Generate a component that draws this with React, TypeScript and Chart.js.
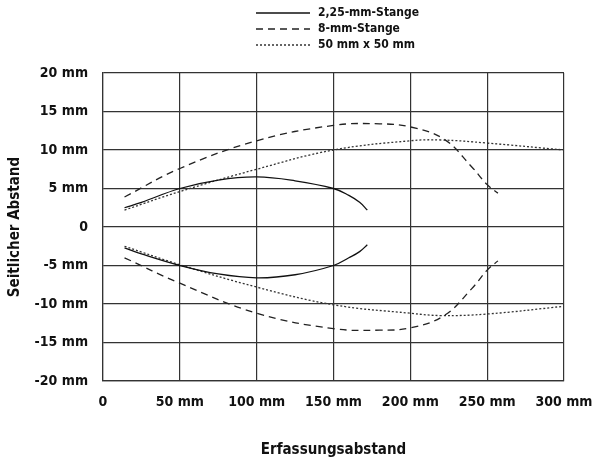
import React, { useEffect, useRef } from "react";
import { Chart, registerables } from "chart.js";

Chart.register(...registerables);

const xTicks = [0, 50, 100, 150, 200, 250, 300];
const yTicks = [-20, -15, -10, -5, 0, 5, 10, 15, 20];

const seriesNames = ["2,25-mm-Stange", "8-mm-Stange", "50 mm x 50 mm"];

const rod225X = [14, 25, 50, 75, 100, 125, 150, 160, 167, 172];
const rod225Upper = [2.5, 3.2, 5.0, 6.1, 6.5, 6.0, 5.0, 4.1, 3.2, 2.2];
const rod225Lower = [-2.7, -3.5, -5.0, -6.1, -6.6, -6.2, -5.0, -4.0, -3.2, -2.3];

const rod8X = [14, 50, 100, 150, 180, 200, 222, 240, 250, 257];
const rod8Upper = [3.9, 7.6, 11.2, 13.2, 13.4, 13.0, 11.4, 7.8, 5.5, 4.4];
const rod8Lower = [-4.0, -7.3, -11.2, -13.2, -13.4, -13.1, -11.5, -8.0, -5.6, -4.4];

const plateX = [14, 50, 100, 150, 200, 220, 250, 300];
const plateUpper = [2.2, 4.6, 7.5, 10.0, 11.2, 11.3, 10.9, 10.0];
const plateLower = [-2.5, -4.9, -7.8, -10.1, -11.2, -11.5, -11.3, -10.3];

const FONT = '"DejaVu Sans Condensed", "Liberation Sans Narrow", sans-serif';

const styles = [
  { color: "#111111", dash: [] as number[], width: 1.3 },
  { color: "#222222", dash: [7, 5], width: 1.3 },
  { color: "#333333", dash: [2, 2], width: 1.3 },
];

const pts = (xs: number[], ys: number[]) => xs.map((x, i) => ({ x, y: ys[i] }));

const legendPlugin = {
  id: "customLegend",
  afterDraw(chart: any) {
    const ctx = chart.ctx;
    ctx.save();
    const rows = [13, 29, 45];
    seriesNames.forEach((name, i) => {
      const s = styles[i];
      ctx.beginPath();
      ctx.setLineDash(s.dash);
      ctx.strokeStyle = s.color;
      ctx.lineWidth = s.width;
      ctx.moveTo(256, rows[i]);
      ctx.lineTo(310, rows[i]);
      ctx.stroke();
      ctx.setLineDash([]);
      ctx.fillStyle = "#111";
      ctx.font = `bold 12px ${FONT}`;
      ctx.textAlign = "left";
      ctx.textBaseline = "middle";
      ctx.fillText(name, 318, rows[i]);
    });
    ctx.restore();
  },
};

export default function App() {
  const ref = useRef<HTMLCanvasElement | null>(null);
  useEffect(() => {
    if (!ref.current) return;
    const mk = (label: string, xs: number[], ys: number[], si: number) => ({
      label,
      data: pts(xs, ys),
      borderColor: styles[si].color,
      borderDash: styles[si].dash,
      borderWidth: styles[si].width,
      pointRadius: 0,
      fill: false,
      showLine: true,
      tension: 0.4,
    });
    const chart = new Chart(ref.current, {
      type: "scatter",
      data: {
        datasets: [
          mk(seriesNames[0], rod225X, rod225Upper, 0),
          mk(seriesNames[0], rod225X, rod225Lower, 0),
          mk(seriesNames[1], rod8X, rod8Upper, 1),
          mk(seriesNames[1], rod8X, rod8Lower, 1),
          mk(seriesNames[2], plateX, plateUpper, 2),
          mk(seriesNames[2], plateX, plateLower, 2),
        ],
      },
      options: {
        animation: false,
        responsive: false,
        layout: { padding: { top: 73, right: 35, left: 0, bottom: 0 } },
        plugins: { legend: { display: false }, tooltip: { enabled: false } },
        scales: {
          x: {
            type: "linear",
            min: 0,
            max: 300,
            afterBuildTicks: (scale: any) => {
              scale.ticks = xTicks.map((v) => ({ value: v }));
            },
            afterFit: (scale: any) => {
              scale.height = 85;
              scale.paddingLeft = 0;
              scale.paddingRight = 0;
            },
            grid: { color: "#333", lineWidth: 1.2, drawTicks: false },
            border: { color: "#333", width: 1.2 },
            ticks: {
              padding: 13,
              color: "#111",
              font: { family: FONT, size: 14, weight: "bold" },
              maxRotation: 0,
              autoSkip: false,
              callback: (v: any) => (v === 0 ? "0" : `${v} mm`),
            },
            title: {
              display: true,
              text: "Erfassungsabstand",
              color: "#111",
              font: { family: FONT, size: 15, weight: "bold" },
              padding: { top: 0, bottom: 7 },
            },
          },
          y: {
            type: "linear",
            min: -20,
            max: 20,
            afterBuildTicks: (scale: any) => {
              scale.ticks = yTicks.map((v) => ({ value: v }));
            },
            afterFit: (scale: any) => {
              scale.width = 103;
              scale.paddingTop = 0;
              scale.paddingBottom = 0;
            },
            grid: { color: "#333", lineWidth: 1.2, drawTicks: false },
            border: { color: "#333", width: 1.2 },
            ticks: {
              padding: 15,
              color: "#111",
              font: { family: FONT, size: 14, weight: "bold" },
              autoSkip: false,
              callback: (v: any) => (v === 0 ? "0" : `${v} mm`),
            },
            title: {
              display: true,
              text: "Seitlicher Abstand",
              color: "#111",
              font: { family: FONT, size: 15, weight: "bold" },
              padding: { top: 6, bottom: 0 },
            },
          },
        },
      },
      plugins: [legendPlugin],
    });
    return () => chart.destroy();
  }, []);
  return (
    <div style={{ position: "absolute", left: 0, top: 0, width: 599, height: 466, background: "#fff" }}>
      <canvas ref={ref} width={599} height={466} style={{ width: 599, height: 466 }} />
    </div>
  );
}
